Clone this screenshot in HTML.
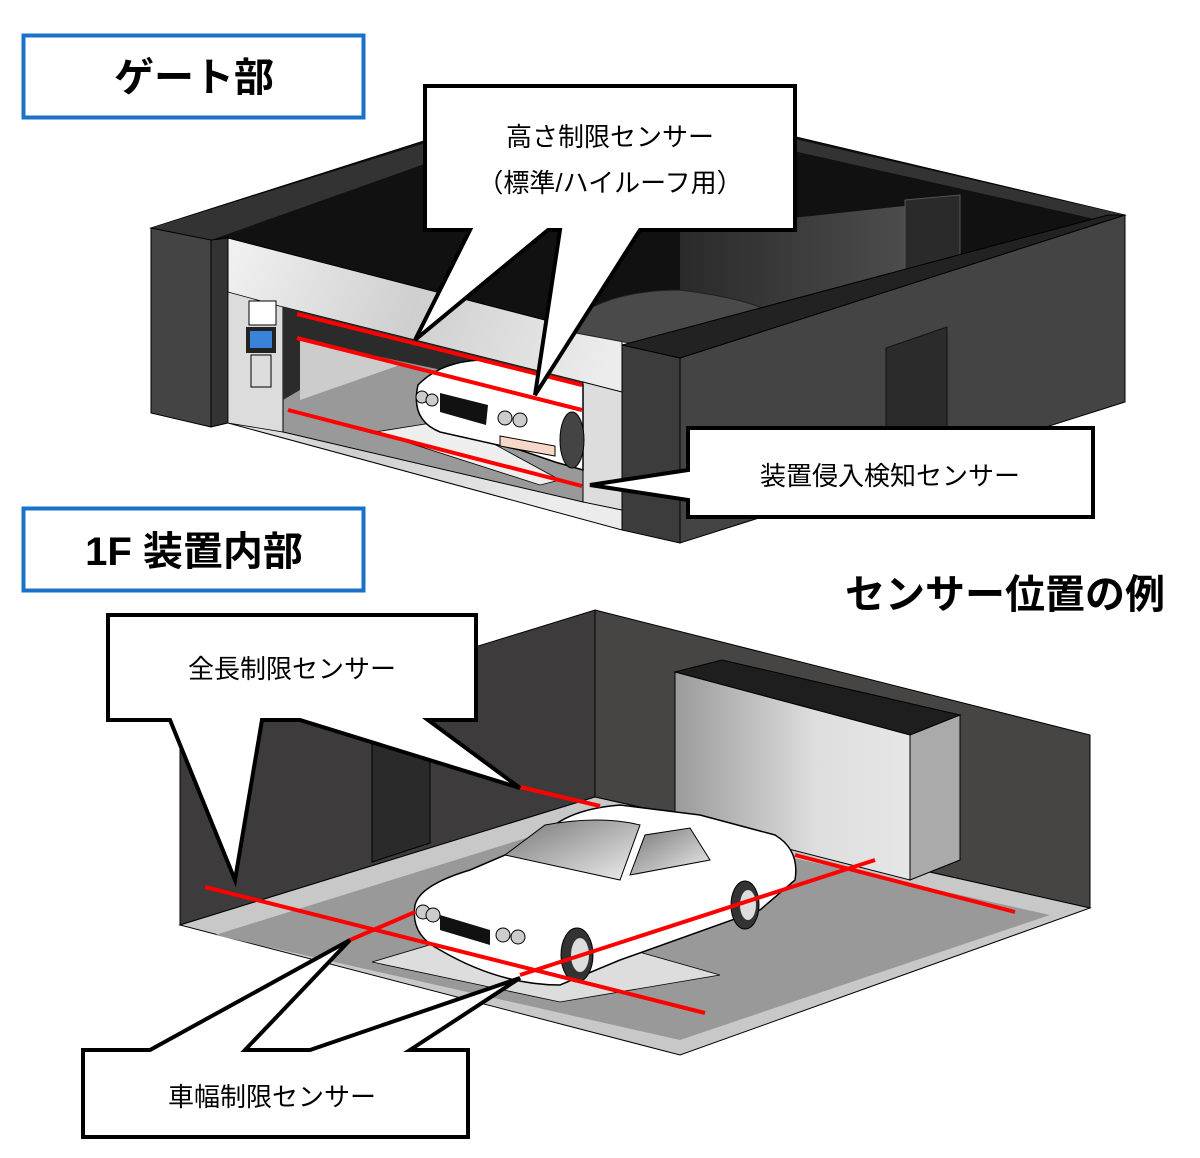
<!DOCTYPE html>
<html><head><meta charset="utf-8"><style>
html,body{margin:0;padding:0;background:#fff;}
svg{display:block;}
text{font-family:"Liberation Sans","Noto Sans CJK JP",sans-serif;}
</style></head><body>
<svg width="1200" height="1158" viewBox="0 0 1200 1158" xmlns="http://www.w3.org/2000/svg">
<defs>
<linearGradient id="gate" x1="0" y1="0" x2="1" y2="0.3"><stop offset="0" stop-color="#f2f2f2"/><stop offset="0.5" stop-color="#cfcfcf"/><stop offset="1" stop-color="#ececec"/></linearGradient>
<linearGradient id="door" x1="0" y1="0" x2="1" y2="0"><stop offset="0" stop-color="#9a9a9a"/><stop offset="0.6" stop-color="#dedede"/><stop offset="1" stop-color="#e6e6e6"/></linearGradient>
<linearGradient id="backd" x1="0" y1="0" x2="1" y2="0"><stop offset="0" stop-color="#2a2a2a"/><stop offset="1" stop-color="#555"/></linearGradient>
<linearGradient id="glass" x1="0" y1="0" x2="1" y2="1"><stop offset="0" stop-color="#777"/><stop offset="1" stop-color="#eee"/></linearGradient>
</defs>

<!-- ===== TOP BUILDING ===== -->
<polygon points="151,228 590,88 1125,215 680,350 622,340 211,240" fill="#111" stroke="#000"/>
<polygon points="151,228 590,92 1125,215 1108,222 590,105 211,240" fill="#333"/>
<polygon points="680,230 960,200 960,290 680,330" fill="url(#backd)"/>
<polygon points="905,200 960,195 960,285 905,295" fill="#2a2a2a" stroke="#555"/>
<polygon points="151,228 211,240 211,427 151,413" fill="#444" stroke="#000"/>
<polygon points="211,240 228,238 228,423 211,427" fill="#333" stroke="#000"/>
<polygon points="228,238 622,340 622,530 228,423" fill="url(#gate)" stroke="#000"/>
<polygon points="228,292 283,307 283,432 228,423" fill="#dcdcdc" stroke="#000" stroke-width="0.8"/>
<polygon points="283,307 583,382 583,502 283,432" fill="#999" stroke="#000"/>
<polygon points="283,307 583,382 583,400 300,340 300,390 283,400" fill="#2b2b2b"/>
<polygon points="300,340 400,365 300,400" fill="#ccc"/>
<polygon points="583,382 622,392 622,510 583,502" fill="#ddd" stroke="#000"/>
<polygon points="375,432 450,420 560,480 540,485" fill="#eee" stroke="#000" stroke-width="0.8"/>
<rect x="249" y="301" width="27" height="24" fill="#fff" stroke="#000"/>
<rect x="246" y="327" width="30" height="26" fill="#222"/>
<rect x="250" y="331" width="22" height="17" fill="#3b82d9"/>
<rect x="251" y="355" width="20" height="32" fill="#ddd" stroke="#000"/>
<path d="M560,330 Q600,290 680,290 Q760,300 785,320 L720,340 L640,345 Z" fill="#4a4a4a" stroke="#222"/>
<path d="M418,385 Q440,362 480,360 L583,385 L583,470 L555,462 L520,450 L440,432 Q410,420 418,385 Z" fill="#fff" stroke="#000" stroke-width="1.5"/>
<polygon points="440,393 488,405 486,425 440,412" fill="#111"/>
<circle cx="422" cy="397" r="6" fill="#ccc" stroke="#000"/><circle cx="432" cy="400" r="6" fill="#ccc" stroke="#000"/>
<circle cx="505" cy="418" r="7" fill="#ccc" stroke="#000"/><circle cx="520" cy="420" r="7" fill="#ccc" stroke="#000"/>
<polygon points="500,436 555,446 555,456 500,446" fill="#f6d8c8" stroke="#000"/>
<ellipse cx="572" cy="440" rx="12" ry="28" fill="#444" stroke="#000"/>
<polygon points="622,345 680,358 680,543 622,530" fill="#3c3c3c" stroke="#000"/>
<polygon points="680,358 1125,215 1125,402 680,543" fill="#444" stroke="#000"/>
<polygon points="622,345 1108,215 1125,215 680,358" fill="#222" stroke="#000"/>
<polygon points="886,348 947,327 947,430 886,445" fill="#2b2b2b" stroke="#111"/>
<g stroke="#ff0000" stroke-width="4">
<line x1="297" y1="314" x2="582" y2="385"/>
<line x1="297" y1="338" x2="582" y2="410"/>
<line x1="288" y1="410" x2="582" y2="486"/>
</g>

<!-- ===== BOTTOM BUILDING ===== -->
<polygon points="180,738 595,610 595,797 180,925" fill="#3d3b3c" stroke="#000"/>
<polygon points="595,610 1090,735 1090,908 595,797" fill="#474444" stroke="#000"/>
<polygon points="372,740 430,722 430,843 372,862" fill="#2a2a2a" stroke="#000"/>
<polygon points="180,925 595,797 1090,908 680,1055" fill="#c8c8c8" stroke="#000"/>
<polygon points="215,935 600,815 1050,915 680,1040" fill="#999"/>
<polygon points="372,962 520,918 720,975 560,1002" fill="#ddd" stroke="#000" stroke-width="0.8"/>
<polygon points="675,672 722,660 960,715 910,735" fill="#1e1e1e" stroke="#000"/>
<polygon points="675,672 910,735 910,880 675,820" fill="url(#door)" stroke="#000"/>
<polygon points="910,735 960,715 960,860 910,880" fill="#aaa" stroke="#000"/>
<path d="M415,905 Q420,885 470,870 L540,840 Q560,810 620,805 L700,815 L775,835 Q800,850 795,880 L760,910 L620,960 L560,985 Q500,985 440,950 Q410,935 415,905 Z" fill="#fff" stroke="#000" stroke-width="1.5"/>
<path d="M505,855 L545,825 Q600,815 640,825 L620,880 Z" fill="url(#glass)" stroke="#000"/>
<path d="M630,875 L645,835 L690,828 L710,860 Z" fill="url(#glass)" stroke="#000"/>
<path d="M440,915 L490,930 L490,945 L440,930 Z" fill="#111"/>
<circle cx="423" cy="912" r="7" fill="#ccc" stroke="#000"/><circle cx="433" cy="915" r="7" fill="#ccc" stroke="#000"/>
<circle cx="503" cy="935" r="7" fill="#ccc" stroke="#000"/><circle cx="518" cy="937" r="7" fill="#ccc" stroke="#000"/>
<ellipse cx="577" cy="955" rx="16" ry="27" fill="#333" stroke="#000"/><ellipse cx="580" cy="955" rx="9" ry="17" fill="#ddd"/>
<ellipse cx="745" cy="905" rx="14" ry="24" fill="#333" stroke="#000"/><ellipse cx="748" cy="905" rx="8" ry="15" fill="#ddd"/>
<g stroke="#ff0000" stroke-width="4">
<line x1="205" y1="887" x2="705" y2="1013"/>
<line x1="520" y1="787" x2="600" y2="806"/>
<line x1="795" y1="855" x2="1015" y2="912"/>
<line x1="350" y1="940" x2="415" y2="912"/>
<line x1="520" y1="975" x2="875" y2="860"/>
</g>

<g fill="#fff" stroke="#000" stroke-width="4" stroke-linejoin="miter">
<path d="M425,86 H795 V230 H640 L535,395 L560,230 H548 L415,340 L470,230 H425 Z"/>
<path d="M688,428 H1093 V517 H688 V500 L590,485 L688,470 Z"/>
<path d="M108,615 H476 V720 H428 L520,788 L300,720 H262 L235,880 L170,720 H108 Z"/>
<path d="M83,1050 H150 L350,940 L245,1050 H310 L520,978 L410,1050 H468 V1137 H83 Z"/>
</g>
<g font-size="26" fill="#000" text-anchor="middle">
<text x="610" y="146">高さ制限センサー</text>
<text x="610" y="192">（標準/ハイルーフ用）</text>
<text x="890" y="485">装置侵入検知センサー</text>
<text x="292" y="678">全長制限センサー</text>
<text x="272" y="1106">車幅制限センサー</text>
</g>

<rect x="23.5" y="35.5" width="340" height="82" fill="#fff" stroke="#1a72c8" stroke-width="4"/>
<text x="194" y="91" font-size="40" font-weight="bold" text-anchor="middle">ゲート部</text>
<rect x="23.5" y="508.5" width="340" height="82" fill="#fff" stroke="#1a72c8" stroke-width="4"/>
<text x="194" y="565" font-size="40" font-weight="bold" text-anchor="middle">1F 装置内部</text>
<text x="1005" y="608" font-size="40" font-weight="bold" text-anchor="middle">センサー位置の例</text>
</svg>
</body></html>
